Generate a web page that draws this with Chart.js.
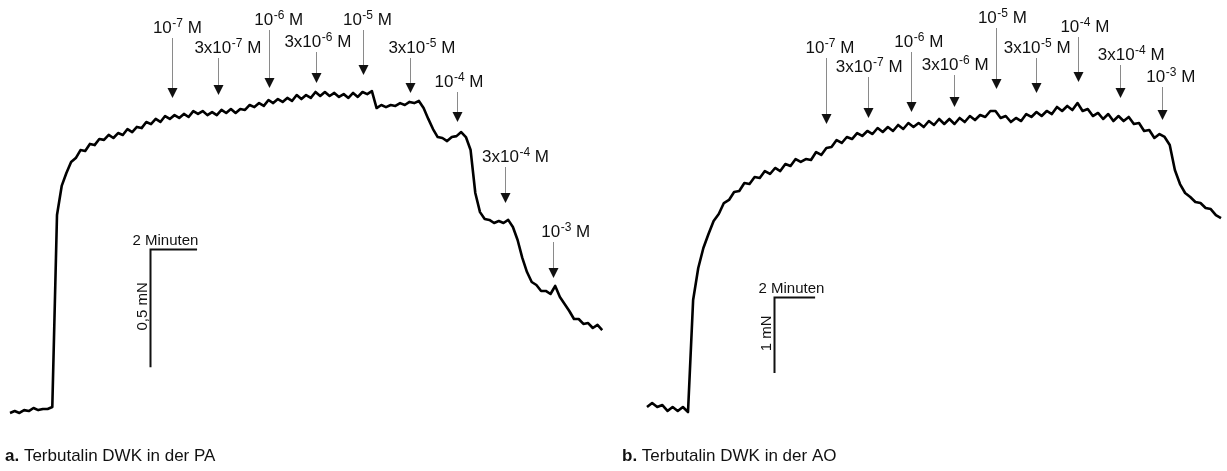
<!DOCTYPE html>
<html>
<head>
<meta charset="utf-8">
<script src="https://cdn.jsdelivr.net/npm/chart.js@4.4.1/dist/chart.umd.min.js"></script>
<style>
  html, body { margin: 0; padding: 0; background: #fff; }
  #wrap { position: relative; width: 1227px; height: 471px; overflow: hidden; }
  #wrap canvas { position: absolute; top: 0; }
  #chartA { left: 0; }
  #chartB { left: 614px; }
</style>
</head>
<body>
<div id="wrap">
  <canvas id="chartA" width="614" height="471"></canvas>
  <canvas id="chartB" width="613" height="471"></canvas>
</div>
<script>
// ---------- recorded tension traces (mN above resting tension) ----------
// Panel a: pulmonary artery (PA), one sample every 0.2 min
const STEP_A = 0.2;
const FORCE_A = [
  -0.004, 0.004, -0.004, 0.008, 0.004, 0.017, 0.008, 0.013, 0.013, 0.021, 0.835,
  0.958, 1.013, 1.059, 1.076, 1.110, 1.106, 1.136, 1.131, 1.157, 1.153,
  1.174, 1.161, 1.182, 1.174, 1.199, 1.186, 1.208, 1.203, 1.229, 1.220,
  1.242, 1.229, 1.254, 1.242, 1.258, 1.246, 1.263, 1.250, 1.275, 1.263,
  1.275, 1.258, 1.271, 1.258, 1.280, 1.267, 1.284, 1.267, 1.284, 1.280,
  1.301, 1.292, 1.309, 1.297, 1.322, 1.309, 1.326, 1.314, 1.331, 1.318,
  1.343, 1.326, 1.343, 1.331, 1.356, 1.339, 1.356, 1.339, 1.352, 1.335,
  1.347, 1.331, 1.352, 1.335, 1.356, 1.347, 1.360, 1.288, 1.301, 1.292,
  1.301, 1.297, 1.309, 1.301, 1.314, 1.309, 1.318, 1.288, 1.242, 1.199,
  1.165, 1.161, 1.148, 1.165, 1.169, 1.186, 1.165, 1.110, 0.928, 0.847,
  0.818, 0.814, 0.801, 0.809, 0.801, 0.814, 0.784, 0.729, 0.653, 0.593,
  0.551, 0.538, 0.513, 0.513, 0.500, 0.534, 0.487, 0.458, 0.428, 0.394,
  0.394, 0.373, 0.377, 0.356, 0.369, 0.347
];
// cumulative terbutaline additions (min after start of recording)
const DOSE_TIMES_A = [6.9, 8.85, 11.0, 13.0, 15.0, 17.0, 19.0, 21.05, 23.1];
const DOSE_LABELS_A = ['10^-7', '3x10^-7', '10^-6', '3x10^-6', '10^-5', '3x10^-5', '10^-4', '3x10^-4', '10^-3'];

// Panel b: aorta (AO), one sample every 0.25 min
const STEP_B = 0.25;
const FORCE_B = [
  0.013, 0.066, 0.013, 0.039, -0.039, 0.013, -0.039, 0.013, -0.053,
  1.421, 1.842,
  2.105, 2.289, 2.461, 2.553, 2.697, 2.737, 2.842, 2.855, 2.961, 2.947,
  3.039, 3.026, 3.118, 3.079, 3.158, 3.118, 3.211, 3.184, 3.276, 3.237,
  3.276, 3.263, 3.368, 3.329, 3.421, 3.434, 3.526, 3.487, 3.566, 3.539,
  3.618, 3.579, 3.645, 3.605, 3.684, 3.632, 3.697, 3.645, 3.724, 3.671,
  3.750, 3.697, 3.750, 3.697, 3.776, 3.724, 3.803, 3.737, 3.803, 3.737,
  3.816, 3.763, 3.842, 3.789, 3.855, 3.829, 3.908, 3.908, 3.816, 3.842,
  3.763, 3.816, 3.776, 3.868, 3.829, 3.895, 3.842, 3.908, 3.868, 3.961,
  3.908, 3.974, 3.921, 4.013, 3.908, 3.934, 3.842, 3.882, 3.803, 3.868,
  3.776, 3.842, 3.776, 3.829, 3.737, 3.750, 3.645, 3.658, 3.553, 3.605,
  3.566, 3.461, 3.132, 2.947, 2.829, 2.776, 2.711, 2.697, 2.632, 2.618,
  2.539, 2.500
];
const DOSE_TIMES_B = [8.73, 10.78, 12.88, 14.98, 17.02, 18.98, 21.02, 23.07, 25.12];
const DOSE_LABELS_B = ['10^-7', '3x10^-7', '10^-6', '3x10^-6', '10^-5', '3x10^-5', '10^-4', '3x10^-4', '10^-3'];

// calibration bars: 2 min wide, 0.5 mN (a) / 1 mN (b) high
const BAR_MIN = 2;
const BAR_MN_A = 0.5;
const BAR_MN_B = 1;

// ---------- layout ----------
const FONT = '"Liberation Sans", Arial, Helvetica, sans-serif';
const INK = '#111';
const LABEL_PX = 17, SUP_PX = 12, SUP_RISE = 6;

const LAYOUT_A = {
  view: { tMin: -0.4255, tMax: 25.702, fMin: -0.25, fMax: 1.7458 },
  labelBase: [33, 53, 25, 47, 25, 53, 87, 162, 237],     // label baselines (px from top)
  labelAnchor: [0.40, 0.36, 0.31, 0.48, 0.42, 0.33, 0.47, 0.35, 0.25], // arrow position within label
  tipGap: [17, 15, 12, 9, 17, 9, 10, 17, 8],            // arrow tip clearance above trace (px)
  barCorner: { t: 5.96, f: 0.69 },
  barTextDx: -18,
  caption: { x: 5, y: 461, bold: 'a.', text: ' Terbutalin DWK in der PA' }
};
const LAYOUT_B = {
  view: { tMin: -1.6098, tMax: 28.293, fMin: -0.8289, fMax: 5.3684 },
  labelBase: [53, 72, 47, 70, 23, 53, 32, 60, 82],
  labelAnchor: [0.43, 0.49, 0.35, 0.49, 0.38, 0.49, 0.37, 0.34, 0.33],
  tipGap: [24, 13, 11, 12, 22, 19, 21, 18, 14],
  barCorner: { t: 6.2, f: 1.46 },
  barTextDx: -16,
  caption: { x: 8, y: 461, bold: 'b.', text: ' Terbutalin DWK in der AO' }
};

// ---------- helpers ----------
function toPoints(values, step) {
  return values.map((v, i) => ({ x: i * step, y: v }));
}

function doseLabelParts(label) {
  const [base, exp] = label.split('^');
  return { base, exp, unit: ' M' };
}

function doseLabelWidth(ctx, label) {
  const p = doseLabelParts(label);
  ctx.font = `${LABEL_PX}px ${FONT}`;
  let w = ctx.measureText(p.base).width + ctx.measureText(p.unit).width;
  ctx.font = `${SUP_PX}px ${FONT}`;
  w += ctx.measureText(p.exp).width + 0.5;
  return w;
}

function drawDoseLabel(ctx, label, left, baseline) {
  const p = doseLabelParts(label);
  ctx.textAlign = 'left';
  ctx.textBaseline = 'alphabetic';
  ctx.font = `${LABEL_PX}px ${FONT}`;
  ctx.fillText(p.base, left, baseline);
  let x = left + ctx.measureText(p.base).width + 0.5;
  ctx.font = `${SUP_PX}px ${FONT}`;
  ctx.fillText(p.exp, x, baseline - SUP_RISE);
  x += ctx.measureText(p.exp).width;
  ctx.font = `${LABEL_PX}px ${FONT}`;
  ctx.fillText(p.unit, x, baseline);
}

// highest trace value within one sample step of time t
function traceTop(values, step, t) {
  let best = -Infinity;
  values.forEach((v, i) => {
    if (Math.abs(i * step - t) <= step + 1e-9) best = Math.max(best, v);
  });
  return best;
}

function annotationPlugin(panel) {
  return {
    id: 'doseAnnotations',
    afterDatasetsDraw(chart) {
      const { ctx } = chart;
      const xs = chart.scales.x, ys = chart.scales.y;
      const L = panel.layout;
      ctx.save();
      ctx.fillStyle = INK;

      // dose arrows with labels
      panel.times.forEach((t, k) => {
        const x = Math.round(xs.getPixelForValue(t)) + 0.5;
        const tip = ys.getPixelForValue(traceTop(panel.values, panel.step, t)) - L.tipGap[k];
        const base = L.labelBase[k];
        const headH = 10, headW = 10;
        ctx.strokeStyle = '#8a8a8a';
        ctx.lineWidth = 1;
        ctx.beginPath();
        ctx.moveTo(x, base + 5);
        ctx.lineTo(x, tip - headH);
        ctx.stroke();
        ctx.beginPath();
        ctx.moveTo(x - headW / 2, tip - headH);
        ctx.lineTo(x + headW / 2, tip - headH);
        ctx.lineTo(x, tip);
        ctx.closePath();
        ctx.fill();
        const w = doseLabelWidth(ctx, panel.labels[k]);
        drawDoseLabel(ctx, panel.labels[k], x - w * L.labelAnchor[k], base);
      });

      // calibration bars
      const c = L.barCorner;
      const cx = Math.round(xs.getPixelForValue(c.t)) + 0.5;
      const cy = Math.round(ys.getPixelForValue(c.f)) + 0.5;
      const xEnd = xs.getPixelForValue(c.t + panel.barMin);
      const yEnd = ys.getPixelForValue(c.f - panel.barMN);
      ctx.strokeStyle = INK;
      ctx.lineWidth = 2;
      ctx.lineCap = 'butt';
      ctx.beginPath();
      ctx.moveTo(xEnd, cy);
      ctx.lineTo(cx - 1, cy);
      ctx.moveTo(cx, cy - 1);
      ctx.lineTo(cx, yEnd);
      ctx.stroke();
      ctx.font = `15px ${FONT}`;
      ctx.textAlign = 'left';
      ctx.textBaseline = 'alphabetic';
      ctx.fillText(`${panel.barMin} Minuten`, cx + L.barTextDx, cy - 5);
      ctx.save();
      ctx.translate(cx - 4, (cy + yEnd) / 2 - 2);
      ctx.rotate(-Math.PI / 2);
      ctx.textAlign = 'center';
      ctx.fillText(`${String(panel.barMN).replace('.', ',')} mN`, 0, 0);
      ctx.restore();

      // panel caption
      const cap = L.caption;
      ctx.textAlign = 'left';
      ctx.font = `bold 17px ${FONT}`;
      ctx.fillText(cap.bold, cap.x, cap.y);
      const bw = ctx.measureText(cap.bold).width;
      ctx.font = `17px ${FONT}`;
      ctx.fillText(cap.text, cap.x + bw, cap.y);
      ctx.restore();
    }
  };
}

function makePanel(canvasId, panel) {
  const v = panel.layout.view;
  return new Chart(document.getElementById(canvasId), {
    type: 'line',
    data: {
      datasets: [{
        data: toPoints(panel.values, panel.step),
        borderColor: '#000',
        borderWidth: 2.6,
        borderJoinStyle: 'round',
        pointRadius: 0,
        tension: 0,
        fill: false
      }]
    },
    options: {
      responsive: false,
      maintainAspectRatio: false,
      animation: false,
      devicePixelRatio: 1,
      layout: { padding: 0 },
      events: [],
      scales: {
        x: { type: 'linear', display: false, min: v.tMin, max: v.tMax },
        y: { type: 'linear', display: false, min: v.fMin, max: v.fMax }
      },
      plugins: { legend: { display: false }, tooltip: { enabled: false }, title: { display: false } }
    },
    plugins: [annotationPlugin(panel)]
  });
}

makePanel('chartA', {
  values: FORCE_A, step: STEP_A, times: DOSE_TIMES_A, labels: DOSE_LABELS_A,
  barMin: BAR_MIN, barMN: BAR_MN_A, layout: LAYOUT_A
});
makePanel('chartB', {
  values: FORCE_B, step: STEP_B, times: DOSE_TIMES_B, labels: DOSE_LABELS_B,
  barMin: BAR_MIN, barMN: BAR_MN_B, layout: LAYOUT_B
});
</script>
</body>
</html>
